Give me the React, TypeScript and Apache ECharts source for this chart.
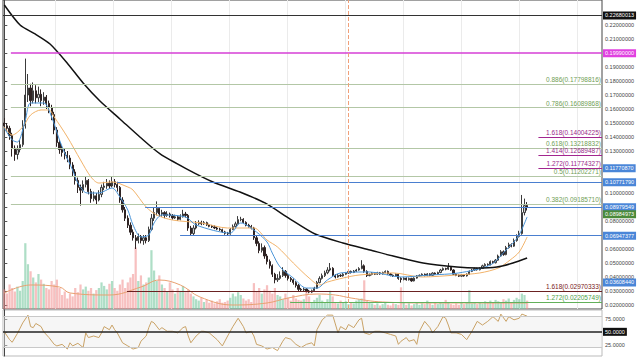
import React, { useEffect, useRef } from "react";
import * as echarts from "echarts";

// ---------- data ----------
const firstOpen = 0.15;
const closes = [
  0.1480, 0.1462, 0.1410, 0.1320, 0.1275, 0.1310, 0.1345, 0.1480, 0.1700, 0.1750,
  0.1660, 0.1730, 0.1680, 0.1705, 0.1660, 0.1685, 0.1640, 0.1610, 0.1560, 0.1450,
  0.1360, 0.1310, 0.1290, 0.1270, 0.1250, 0.1200, 0.1150, 0.1090, 0.1040, 0.1020,
  0.1060, 0.1090, 0.1010, 0.0960, 0.0980, 0.0950, 0.0990, 0.1040, 0.1050, 0.1070,
  0.1050, 0.1080, 0.1060, 0.1040, 0.0950, 0.0880, 0.0820, 0.0770, 0.0720, 0.0680,
  0.0660, 0.0690, 0.0660, 0.0680, 0.0660, 0.0740, 0.0820, 0.0860, 0.0890, 0.0850,
  0.0860, 0.0840, 0.0850, 0.0838, 0.0822, 0.0830, 0.0812, 0.0830, 0.0850, 0.0840,
  0.0750, 0.0710, 0.0750, 0.0780, 0.0790, 0.0780, 0.0788, 0.0772, 0.0762, 0.0758,
  0.0750, 0.0742, 0.0738, 0.0722, 0.0712, 0.0708, 0.0740, 0.0760, 0.0780, 0.0810,
  0.0812, 0.0790, 0.0770, 0.0760, 0.0750, 0.0680, 0.0640, 0.0590, 0.0610, 0.0550,
  0.0510, 0.0480, 0.0420, 0.0380, 0.0390, 0.0410, 0.0440, 0.0410, 0.0390, 0.0380,
  0.0360, 0.0340, 0.0312, 0.0308, 0.0314, 0.0300, 0.0292, 0.0302, 0.0320, 0.0360,
  0.0390, 0.0410, 0.0430, 0.0450, 0.0462, 0.0412, 0.0400, 0.0412, 0.0408, 0.0420,
  0.0428, 0.0440, 0.0432, 0.0442, 0.0450, 0.0460, 0.0480, 0.0440, 0.0410, 0.0418,
  0.0428, 0.0420, 0.0430, 0.0422, 0.0432, 0.0440, 0.0422, 0.0412, 0.0408, 0.0420,
  0.0390, 0.0382, 0.0392, 0.0380, 0.0390, 0.0372, 0.0392, 0.0408, 0.0412, 0.0420,
  0.0410, 0.0422, 0.0412, 0.0428, 0.0420, 0.0432, 0.0450, 0.0460, 0.0456, 0.0470,
  0.0450, 0.0420, 0.0412, 0.0406, 0.0414, 0.0408, 0.0420, 0.0440, 0.0450, 0.0460,
  0.0452, 0.0462, 0.0480, 0.0490, 0.0488, 0.0510, 0.0502, 0.0520, 0.0550, 0.0580,
  0.0560, 0.0610, 0.0630, 0.0620, 0.0660, 0.0690, 0.0710, 0.0860, 0.0910, 0.0898,
];
const highs = [
  0.1535, 0.1500, 0.1480, 0.1430, 0.1340, 0.1340, 0.1380, 0.1520, 0.1960, 0.1850,
  0.1780, 0.1790, 0.1770, 0.1760, 0.1740, 0.1720, 0.1700, 0.1660, 0.1630, 0.1580,
  0.1470, 0.1380, 0.1340, 0.1320, 0.1300, 0.1270, 0.1220, 0.1170, 0.1110, 0.1060,
  0.1090, 0.1120, 0.1100, 0.1030, 0.1010, 0.1000, 0.1020, 0.1060, 0.1080, 0.1100,
  0.1090, 0.1120, 0.1100, 0.1080, 0.1050, 0.0970, 0.0900, 0.0840, 0.0790, 0.0740,
  0.0700, 0.0710, 0.0700, 0.0700, 0.0700, 0.0760, 0.0850, 0.0900, 0.0940, 0.0900,
  0.0880, 0.0870, 0.0870, 0.0860, 0.0850, 0.0845, 0.0840, 0.0848, 0.0880, 0.0865,
  0.0850, 0.0765, 0.0770, 0.0800, 0.0805, 0.0802, 0.0800, 0.0795, 0.0780, 0.0772,
  0.0768, 0.0760, 0.0752, 0.0745, 0.0730, 0.0722, 0.0750, 0.0775, 0.0795, 0.0835,
  0.0830, 0.0820, 0.0798, 0.0780, 0.0772, 0.0758, 0.0700, 0.0655, 0.0640, 0.0625,
  0.0565, 0.0525, 0.0490, 0.0430, 0.0420, 0.0440, 0.0470, 0.0450, 0.0420, 0.0400,
  0.0390, 0.0370, 0.0350, 0.0322, 0.0325, 0.0320, 0.0308, 0.0310, 0.0330, 0.0372,
  0.0405, 0.0425, 0.0445, 0.0470, 0.0500, 0.0470, 0.0420, 0.0422, 0.0420, 0.0428,
  0.0435, 0.0448, 0.0446, 0.0450, 0.0458, 0.0470, 0.0520, 0.0490, 0.0448, 0.0425,
  0.0435, 0.0434, 0.0437, 0.0436, 0.0438, 0.0447, 0.0446, 0.0428, 0.0418, 0.0426,
  0.0424, 0.0398, 0.0398, 0.0397, 0.0396, 0.0394, 0.0398, 0.0414, 0.0418, 0.0426,
  0.0425, 0.0428, 0.0427, 0.0434, 0.0433, 0.0438, 0.0458, 0.0468, 0.0466, 0.0500,
  0.0478, 0.0455, 0.0426, 0.0418, 0.0420, 0.0419, 0.0426, 0.0447, 0.0458, 0.0467,
  0.0466, 0.0469, 0.0488, 0.0498, 0.0497, 0.0518, 0.0516, 0.0528, 0.0560, 0.0592,
  0.0590, 0.0622, 0.0645, 0.0640, 0.0675, 0.0705, 0.0730, 0.0986, 0.0960, 0.0935,
];
const lows = [
  0.1460, 0.1440, 0.1380, 0.1260, 0.1230, 0.1240, 0.1290, 0.1330, 0.1460, 0.1650,
  0.1620, 0.1640, 0.1640, 0.1650, 0.1620, 0.1630, 0.1600, 0.1570, 0.1520, 0.1420,
  0.1330, 0.1280, 0.1260, 0.1240, 0.1220, 0.1170, 0.1120, 0.1060, 0.1000, 0.0910,
  0.1000, 0.1040, 0.0990, 0.0930, 0.0940, 0.0920, 0.0940, 0.0970, 0.1020, 0.1030,
  0.1030, 0.1040, 0.1040, 0.1010, 0.0930, 0.0860, 0.0800, 0.0750, 0.0700, 0.0660,
  0.0600, 0.0640, 0.0640, 0.0630, 0.0640, 0.0650, 0.0730, 0.0800, 0.0840, 0.0830,
  0.0830, 0.0820, 0.0830, 0.0825, 0.0810, 0.0815, 0.0800, 0.0805, 0.0825, 0.0825,
  0.0730, 0.0695, 0.0700, 0.0740, 0.0770, 0.0770, 0.0772, 0.0765, 0.0755, 0.0750,
  0.0742, 0.0735, 0.0730, 0.0715, 0.0702, 0.0698, 0.0702, 0.0735, 0.0752, 0.0775,
  0.0798, 0.0782, 0.0762, 0.0752, 0.0740, 0.0665, 0.0620, 0.0570, 0.0575, 0.0530,
  0.0490, 0.0460, 0.0400, 0.0355, 0.0365, 0.0380, 0.0400, 0.0395, 0.0375, 0.0365,
  0.0345, 0.0325, 0.0300, 0.0298, 0.0300, 0.0290, 0.0284, 0.0285, 0.0298, 0.0315,
  0.0355, 0.0382, 0.0400, 0.0420, 0.0440, 0.0400, 0.0390, 0.0395, 0.0400, 0.0402,
  0.0415, 0.0422, 0.0425, 0.0428, 0.0436, 0.0445, 0.0455, 0.0430, 0.0400, 0.0405,
  0.0412, 0.0414, 0.0415, 0.0416, 0.0417, 0.0427, 0.0416, 0.0405, 0.0400, 0.0402,
  0.0380, 0.0360, 0.0376, 0.0374, 0.0375, 0.0366, 0.0368, 0.0388, 0.0402, 0.0406,
  0.0404, 0.0405, 0.0406, 0.0407, 0.0414, 0.0415, 0.0427, 0.0444, 0.0448, 0.0450,
  0.0444, 0.0414, 0.0406, 0.0400, 0.0401, 0.0402, 0.0403, 0.0415, 0.0435, 0.0444,
  0.0446, 0.0447, 0.0457, 0.0474, 0.0480, 0.0483, 0.0495, 0.0497, 0.0515, 0.0545,
  0.0552, 0.0555, 0.0603, 0.0612, 0.0615, 0.0652, 0.0682, 0.0702, 0.0840, 0.0875,
];
const volumes = [
  28, 22, 35, 30, 25, 32, 26, 40, 94, 64,
  54, 45, 38, 50, 42, 36, 30, 28, 40, 35,
  42, 30, 20, 25, 15, 22, 18, 30, 24, 35,
  28, 32, 26, 30, 22, 27, 30, 38, 33, 28,
  36, 40, 30, 26, 35, 42, 30, 38, 45, 50,
  88, 40, 48, 35, 38, 45, 84, 55, 40, 48,
  35, 30, 25, 38, 28, 22, 30, 26, 33, 24,
  28, 22, 18, 14, 12, 16, 10, 13, 9, 12,
  8, 11, 14, 9, 10, 12, 16, 22, 18, 24,
  20, 15, 12, 14, 10, 37, 25, 30, 22, 28,
  34, 26, 22, 30, 20, 18, 14, 22, 16, 12,
  20, 15, 13, 12, 14, 27, 18, 10, 13, 16,
  20, 12, 9, 14, 26, 18, 10, 8, 12, 9,
  11, 7, 10, 8, 12, 14, 15, 41, 12, 9,
  8, 6, 8, 5, 7, 9, 6, 5, 8, 7,
  6, 31, 10, 6, 8, 5, 7, 9, 6, 8,
  7, 12, 8, 6, 9, 7, 10, 8, 13, 9,
  7, 6, 8, 6, 9, 7, 10, 27, 8, 10,
  7, 9, 8, 11, 10, 12, 9, 13, 11, 10,
  14, 12, 15, 10, 13, 16, 14, 22, 20, 12,
];
// [candle index, value] points
const ma200Points = [
  [0, 0.2343], [6, 0.22], [11.7, 0.2136], [17.4, 0.2064], [23.9, 0.1929], [30, 0.1786],
  [36.4, 0.1657], [44, 0.1529], [51.6, 0.14], [59.3, 0.1279], [69.5, 0.1171], [79.4, 0.1079],
  [89.7, 0.1007], [99.2, 0.0929], [108.8, 0.0814], [118.3, 0.0707], [128.9, 0.0643],
  [139.2, 0.0593], [148, 0.055], [159.4, 0.05], [172.3, 0.0471], [180, 0.0464],
  [187.5, 0.0471], [193.6, 0.05], [199, 0.0536],
];
const emaFastPoints = [
  [0, 0.1464], [3, 0.1379], [5, 0.1364], [8, 0.1521], [10, 0.1643], [15, 0.1643],
  [18, 0.1543], [21, 0.1379], [23, 0.1286], [26, 0.1164], [28, 0.1071], [31.5, 0.1],
  [36, 0.1], [41, 0.1036], [44, 0.0971], [47, 0.0879], [49, 0.0771], [52, 0.0686],
  [55, 0.07], [57, 0.0786], [60, 0.0843], [69, 0.0829], [73, 0.0771], [86, 0.0714],
  [90, 0.0786], [96, 0.0721], [100, 0.065], [102, 0.0571], [105, 0.0471], [110, 0.0393],
  [115, 0.0321], [119, 0.0321], [123, 0.0379], [128, 0.0429], [139, 0.0436], [151, 0.04],
  [162, 0.0414], [173, 0.0429], [185, 0.0486], [191, 0.0593], [195.5, 0.0686], [199, 0.0829],
];
const emaSlowPoints = [
  [0, 0.1471], [3, 0.1414], [7, 0.1471], [10, 0.1557], [14, 0.1593], [17, 0.1593],
  [19, 0.1543], [24, 0.14], [29, 0.1236], [33, 0.1114], [36, 0.1071], [41, 0.1079],
  [47, 0.1043], [49, 0.1021], [54, 0.09], [58, 0.0843], [64, 0.0807], [75, 0.0786],
  [85, 0.075], [95, 0.075], [100, 0.0664], [104, 0.0614], [110, 0.05], [116, 0.0393],
  [120, 0.0343], [123, 0.0364], [129, 0.0393], [135, 0.0414], [148, 0.0429], [159, 0.04],
  [172, 0.0414], [181, 0.0429], [188, 0.0464], [192.5, 0.0521], [196, 0.0579], [199, 0.0686],
];
const volMaPoints = [
  [0, 22.9], [10, 34.3], [21, 31.4], [25, 22.9], [40, 20], [52, 31.4], [59, 41.4],
  [67, 34.3], [74.5, 17.1], [87, 5.7], [100, 8.6], [108, 15.7], [119, 21.4], [126, 20],
  [132, 15.7], [144, 10], [163, 8.6], [189, 8.6], [199, 8.6],
];
const rsiPoints = [
  [0, 50], [2, 35], [3, 30], [5, 47], [7, 67], [9, 82], [10, 60], [11, 58], [12, 66], [14, 60],
  [15, 50], [17, 39], [19, 26], [20, 23], [22, 26], [24, 17], [25, 29], [26, 23], [28, 28], [30, 20],
  [31, 48], [32, 39], [34, 42], [36, 39], [37, 48], [38, 60], [40, 54], [41, 63], [42, 54], [43, 48],
  [45, 29], [47, 23], [49, 17], [51, 20], [52, 32], [54, 42], [55, 58], [56, 70], [57, 67], [59, 54],
  [60, 58], [62, 51], [64, 51], [66, 48], [68, 58], [69, 60], [70, 42], [71, 29], [73, 42], [75, 51],
  [76, 51], [78, 48], [81, 35], [83, 23], [85, 42], [87, 60], [89, 76], [91, 60], [92, 48], [94, 51],
  [95, 42], [96, 26], [98, 23], [100, 17], [102, 20], [104, 14], [106, 32], [107, 39], [109, 36], [111, 26],
  [113, 20], [115, 26], [117, 29], [118, 23], [119, 54], [121, 73], [123, 82], [125, 82], [127, 48], [128, 60],
  [130, 54], [131, 64], [133, 58], [135, 73], [136, 76], [137, 48], [139, 45], [141, 51], [143, 51], [145, 48],
  [147, 45], [149, 42], [150, 26], [151, 32], [153, 39], [154, 32], [156, 35], [157, 26], [158, 51], [160, 70],
  [162, 58], [163, 48], [165, 60], [167, 79], [168, 76], [169, 63], [170, 48], [172, 48], [174, 45], [176, 35],
  [178, 51], [180, 70], [182, 63], [184, 70], [186, 79], [188, 70], [189, 84], [191, 70], [192, 79], [194, 73],
  [196, 76], [197, 84], [199, 80],
];
const priceTicks = [0.02, 0.03, 0.04, 0.05, 0.06, 0.07, 0.08, 0.09, 0.1, 0.11, 0.12, 0.13, 0.14, 0.15, 0.16, 0.17, 0.18, 0.19, 0.2, 0.21, 0.22];
const priceLabelTicks = [0.02, 0.03, 0.04, 0.05, 0.06, 0.08, 0.1, 0.13, 0.14, 0.15, 0.16, 0.17, 0.18, 0.19, 0.21, 0.22];
const rsiTicks = [25, 50, 75];
const rsiLabelTicks = [25, 75];
const rsiBands = [20, 50, 80];
const dateGridTicks = [19.3, 41.4, 63.5, 85.5, 107.6, 129.7, 151.8, 173.8, 195.9, 218.0];
const sessionMark = 130.8;
const retraceLevels = ["0.886", "0.786", "0.618", "0.5", "0.382"];
const retraceValues = [0.17798816, 0.16089868, 0.13218832, 0.11202271, 0.0918571];
const extLevels = ["1.618", "1.414", "1.272"];
const extValues = [0.14004225, 0.12689487, 0.11774327];
const lowExtLevels = ["1.618", "1.272"];
const lowExtValues = [0.02970333, 0.02205749];
const supportValues = [0.1077179, 0.08979549, 0.06947377];
const highMark = 0.22680013;
const resistMark = 0.1999;
const blueTags = [0.1177087, 0.0360844];
const lastPrice = 0.08984973;

// ---------- layout constants ----------
const SLOTS = 228;
const XMIN = -0.5;
const XMAX = SLOTS - 0.5;
const PRICE_MIN = 0.02 - 4 / 1400;
const PRICE_MAX = 0.02 + 305 / 1400;
const FONT = "Liberation Sans";
const CLEAR = "rgba(0,0,0,0)";

const slotNames = Array.from({ length: SLOTS }, (_, i) => String(i));

function buildOption() {
  const opens = closes.map((c, i) => (i === 0 ? firstOpen : closes[i - 1]));
  const candleData = closes.map((c, i) => [opens[i], c, lows[i], highs[i]]);
  const volData = volumes.map((v, i) => ({
    value: v,
    itemStyle: { color: closes[i] >= opens[i] ? "rgba(120,200,160,0.6)" : "rgba(240,140,140,0.55)" },
  }));

  const boxLabel = (text: string, bg: string) => ({
    show: true,
    position: "end",
    formatter: text,
    backgroundColor: bg,
    color: "#fff",
    fontSize: 5.5,
    fontFamily: FONT,
    padding: [1, 2],
    distance: 1,
  });
  const topLabel = (text: string, color: string) => ({
    show: true,
    position: "insideEndTop",
    formatter: text,
    color,
    fontSize: 6.5,
    fontFamily: FONT,
    distance: 1,
  });
  const seg = (x1: number, y: number, color: string, width: number, label: any) => [
    { coord: [x1, y], lineStyle: { color, width, type: "solid" }, label },
    { coord: [XMAX, y] },
  ];

  const priceLines: any[] = [];
  priceLines.push(seg(XMIN, highMark, "#333", 1, boxLabel(highMark.toFixed(8), "#111")));
  priceLines.push(seg(2.5, resistMark, "#d63fd6", 1.5, boxLabel(resistMark.toFixed(8), "#e040e0")));
  retraceLevels.forEach((lv, k) => {
    priceLines.push(seg(2.5, retraceValues[k], "#b3c7a6", 1, topLabel(`${lv}(${retraceValues[k].toFixed(8)})`, "#6f9e55")));
  });
  extLevels.forEach((lv, k) => {
    priceLines.push(seg(203.3, extValues[k], "#a3268f", 1, topLabel(`${lv}(${extValues[k].toFixed(8)})`, "#9a2a8a")));
  });
  priceLines.push(seg(46.7, lowExtValues[0], "#6b2222", 1.2, topLabel(`${lowExtLevels[0]}(${lowExtValues[0].toFixed(8)})`, "#7a2020")));
  priceLines.push(seg(108.8, lowExtValues[1], "#62b05a", 1, topLabel(`${lowExtLevels[1]}(${lowExtValues[1].toFixed(8)})`, "#4f9e48")));
  const supportStarts = [42.9, 53.6, 66.9];
  supportValues.forEach((v, k) => {
    priceLines.push(seg(supportStarts[k], v, "#4a7fd0", 1.2, boxLabel(v.toFixed(8), "#4a86d8")));
  });
  blueTags.forEach((v) => {
    priceLines.push(seg(220, v, CLEAR, 1, boxLabel(v.toFixed(8), "#4a86d8")));
  });
  priceLines.push(seg(220, lastPrice, CLEAR, 1, { ...boxLabel(lastPrice.toFixed(8), "#4b8a3a"), offset: [0, 7] }));
  priceLines.push({
    xAxis: sessionMark,
    lineStyle: { color: "#f0a07a", type: "dashed", width: 1 },
    label: { show: false },
  });

  const rsiLines = rsiBands.map((b) =>
    b === 50
      ? [
          { coord: [XMIN, b], lineStyle: { color: "#222", width: 1.5, type: "solid" }, label: boxLabel("50.0000", "#111") },
          { coord: [XMAX, b] },
        ]
      : [
          { coord: [XMIN, b], lineStyle: { color: "#c8c8c8", width: 1, type: "solid" }, label: { show: false } },
          { coord: [XMAX, b] },
        ]
  );

  return {
    animation: false,
    backgroundColor: "#ffffff",
    textStyle: { fontFamily: FONT },
    grid: [
      { left: 3, right: 38, top: 0, height: 309, show: true, borderColor: "#444", borderWidth: 1, backgroundColor: "transparent" },
      { left: 3, right: 38, top: 239, height: 70 },
      { left: 3, right: 38, top: 310, height: 46, show: true, borderColor: "#bbb", borderWidth: 1, backgroundColor: "transparent" },
    ],
    xAxis: [
      { type: "category", gridIndex: 0, data: slotNames, show: false, boundaryGap: true },
      {
        type: "value",
        gridIndex: 0,
        min: XMIN,
        max: XMAX,
        axisLine: { show: false },
        axisLabel: { show: false },
        axisTick: { show: false, customValues: dateGridTicks },
        splitLine: { show: true, lineStyle: { color: "#ebebeb", width: 1 } },
      },
      { type: "category", gridIndex: 1, data: slotNames, show: false, boundaryGap: true },
      { type: "value", gridIndex: 1, min: XMIN, max: XMAX, show: false },
      { type: "value", gridIndex: 2, min: XMIN, max: XMAX, show: false },
    ],
    yAxis: [
      {
        type: "value",
        gridIndex: 0,
        position: "right",
        min: PRICE_MIN,
        max: PRICE_MAX,
        axisLine: { show: true, lineStyle: { color: "#444" } },
        axisTick: { show: true, length: 3, customValues: priceTicks, lineStyle: { color: "#555" } },
        axisLabel: {
          customValues: priceLabelTicks,
          formatter: (v: number) => v.toFixed(8),
          fontSize: 5.5,
          color: "#444",
          margin: 3,
          fontFamily: FONT,
        },
        splitLine: { show: false },
      },
      { type: "value", gridIndex: 1, min: 0, max: 100, show: false },
      {
        type: "value",
        gridIndex: 2,
        position: "right",
        min: 3.7,
        max: 91.8,
        axisLine: { show: true, lineStyle: { color: "#444" } },
        axisTick: { show: true, length: 3, customValues: rsiTicks, lineStyle: { color: "#555" } },
        axisLabel: {
          customValues: rsiLabelTicks,
          formatter: (v: number) => v.toFixed(4),
          fontSize: 5.5,
          color: "#444",
          margin: 3,
          fontFamily: FONT,
        },
        splitLine: { show: false },
      },
    ],
    series: [
      {
        name: "Volume",
        type: "bar",
        xAxisIndex: 2,
        yAxisIndex: 1,
        data: volData,
        barWidth: "85%",
        silent: true,
      },
      {
        name: "Volume MA",
        type: "line",
        xAxisIndex: 3,
        yAxisIndex: 1,
        data: volMaPoints,
        smooth: 0.4,
        symbol: "none",
        lineStyle: { color: "#e8a070", width: 1 },
        silent: true,
      },
      {
        name: "Price",
        type: "candlestick",
        xAxisIndex: 0,
        yAxisIndex: 0,
        data: candleData,
        barWidth: 1.7,
        itemStyle: {
          color: "#cfcfcf",
          color0: "#2e2323",
          borderColor: "#3c3c3c",
          borderColor0: "#2e2323",
          borderWidth: 1,
        },
        silent: true,
      },
      {
        name: "MA slow",
        type: "line",
        xAxisIndex: 1,
        yAxisIndex: 0,
        data: emaSlowPoints,
        smooth: 0.3,
        symbol: "none",
        lineStyle: { color: "#f2b36a", width: 1 },
        silent: true,
      },
      {
        name: "MA fast",
        type: "line",
        xAxisIndex: 1,
        yAxisIndex: 0,
        data: emaFastPoints,
        smooth: 0.3,
        symbol: "none",
        lineStyle: { color: "#4b95d8", width: 1 },
        silent: true,
      },
      {
        name: "MA 200",
        type: "line",
        xAxisIndex: 1,
        yAxisIndex: 0,
        data: ma200Points,
        smooth: 0.25,
        symbol: "none",
        lineStyle: { color: "#111", width: 1.5 },
        silent: true,
        markLine: { silent: true, symbol: ["none", "none"], animation: false, data: priceLines },
      },
      {
        name: "RSI",
        type: "line",
        xAxisIndex: 4,
        yAxisIndex: 2,
        data: rsiPoints,
        symbol: "none",
        lineStyle: { color: "#c9a266", width: 1 },
        silent: true,
        markArea: {
          silent: true,
          itemStyle: { color: "rgba(235,235,235,0.45)" },
          data: [[{ yAxis: rsiBands[0] }, { yAxis: rsiBands[2] }]],
        },
        markLine: { silent: true, symbol: ["none", "none"], animation: false, data: rsiLines },
      },
    ],
  };
}

export default function App() {
  const ref = useRef<HTMLDivElement>(null);
  useEffect(() => {
    if (!ref.current) return;
    const chart = echarts.init(ref.current, null, { renderer: "svg" });
    chart.setOption(buildOption() as any);
    return () => chart.dispose();
  }, []);
  return (
    <div
      ref={ref}
      style={{ position: "fixed", left: 0, top: 0, width: 640, height: 357, background: "#fff" }}
    />
  );
}
